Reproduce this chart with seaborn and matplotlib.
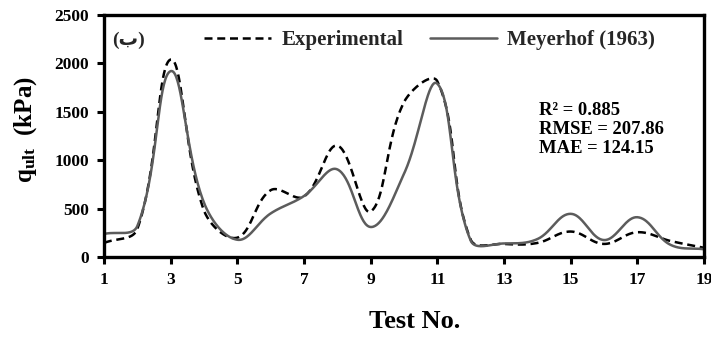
import numpy as np
import pandas as pd
import matplotlib
matplotlib.use("Agg")
import matplotlib.pyplot as plt
import seaborn as sns

# ---- data ----
tests = list(range(1, 20))
experimental = [145, 290, 2040, 480, 200, 690, 625, 1150, 470, 1600,
                1815, 180, 135, 145, 263, 135, 256, 165, 95]
meyerhof = [238, 320, 1920, 560, 178, 450, 630, 905, 310, 860,
            1790, 170, 140, 185, 446, 175, 411, 125, 80]
x_ticks = [1, 3, 5, 7, 9, 11, 13, 15, 17, 19]
y_ticks = [0, 500, 1000, 1500, 2000, 2500]
series_names = ["Experimental", "Meyerhof (1963)"]
stats_lines = ["R\u00b2 = 0.885", "RMSE = 207.86", "MAE = 124.15"]

# pixel scale used only to shape the smoothing like a spreadsheet "smoothed line"
PX_PER_X = 600 / 18.0
PX_PER_Y = 241 / 2500.0


def smooth(xs, ys, n=40, tension=0.38):
    P = np.column_stack([np.asarray(xs, float) * PX_PER_X,
                         np.asarray(ys, float) * PX_PER_Y])
    m = len(P)
    before = np.zeros_like(P)
    after = np.zeros_like(P)
    for i in range(m):
        a = P[max(i - 1, 0)]
        b = P[min(i + 1, m - 1)]
        T = b - a
        dp = np.hypot(*(P[i] - a))
        dn = np.hypot(*(b - P[i]))
        s = dp + dn
        before[i] = P[i] - T * (dp / s) * tension
        after[i] = P[i] + T * (dn / s) * tension
    t = np.linspace(0, 1, n)[:, None]
    out = []
    for i in range(m - 1):
        p1, p2 = P[i], P[i + 1]
        c1, c2 = after[i], before[i + 1]
        seg = ((1 - t) ** 3) * p1 + 3 * ((1 - t) ** 2) * t * c1 + 3 * (1 - t) * t ** 2 * c2 + t ** 3 * p2
        out.append(seg if i == 0 else seg[1:])
    S = np.vstack(out)
    return S[:, 0] / PX_PER_X, S[:, 1] / PX_PER_Y


sns.set_theme(style="white")
plt.rcParams["font.family"] = ["Liberation Serif", "DejaVu Sans"]
plt.rcParams["font.weight"] = "bold"
plt.rcParams["mathtext.fontset"] = "custom"
plt.rcParams["mathtext.rm"] = "Liberation Serif:bold"
plt.rcParams["mathtext.it"] = "Liberation Serif:bold"
plt.rcParams["mathtext.bf"] = "Liberation Serif:bold"

fig = plt.figure(figsize=(7.11, 3.38), dpi=100)
ax = fig.add_axes([104 / 711, (338 - 257) / 338, 600 / 711, 242 / 338])

ex_x, ex_y = smooth(tests, experimental)
me_x, me_y = smooth(tests, meyerhof)
df_e = pd.DataFrame({"x": ex_x, "y": ex_y})
df_m = pd.DataFrame({"x": me_x, "y": me_y})

sns.lineplot(data=df_e, x="x", y="y", sort=False, estimator=None, ax=ax,
             color="black", linewidth=1.8, linestyle=(0, (3.2, 1.9)),
             label=series_names[0])
sns.lineplot(data=df_m, x="x", y="y", sort=False, estimator=None, ax=ax,
             color="#5c5c5c", linewidth=1.8, label=series_names[1])

ax.set_xlim(1, 19)
ax.set_ylim(0, 2500)
ax.set_xticks(x_ticks)
ax.set_yticks(y_ticks)
ax.set_xticklabels([str(v) for v in x_ticks], fontsize=12.5, fontweight="bold")
ax.set_yticklabels([str(v) for v in y_ticks], fontsize=12.5, fontweight="bold")
ax.tick_params(axis="both", direction="out", length=5, width=2.2, color="black",
               bottom=True, left=True, pad=6, labelcolor="black")

for s in ax.spines.values():
    s.set_visible(True)
    s.set_color("black")
    s.set_linewidth(2.4)

ax.set_xlabel("Test No.", fontsize=19, fontweight="bold", color="black", va="center")
ax.xaxis.set_label_coords(0.518, -0.268)
ax.set_ylabel(r"$\mathrm{q_{ult}}$  (kPa)", fontsize=18, fontweight="bold", color="black")
ax.yaxis.set_label_coords(-0.108, 0.525)

leg = ax.legend(loc="center", bbox_to_anchor=(0.543, 0.896), ncol=2, frameon=False,
                handlelength=3.2, handletextpad=0.5, columnspacing=1.3,
                prop={"family": "Liberation Serif", "weight": "bold", "size": 15})

ax.text(0.013, 0.896, "(\u0628)", transform=ax.transAxes, ha="left", va="center",
        fontsize=14, fontweight="bold", family=["Liberation Serif", "DejaVu Sans"])

for i, line in enumerate(stats_lines):
    ax.text(0.725, 0.607 - i * 0.079, line, transform=ax.transAxes, ha="left",
            va="center", fontsize=13.4, fontweight="bold", color="black")

fig.savefig("out.png", dpi=100)
